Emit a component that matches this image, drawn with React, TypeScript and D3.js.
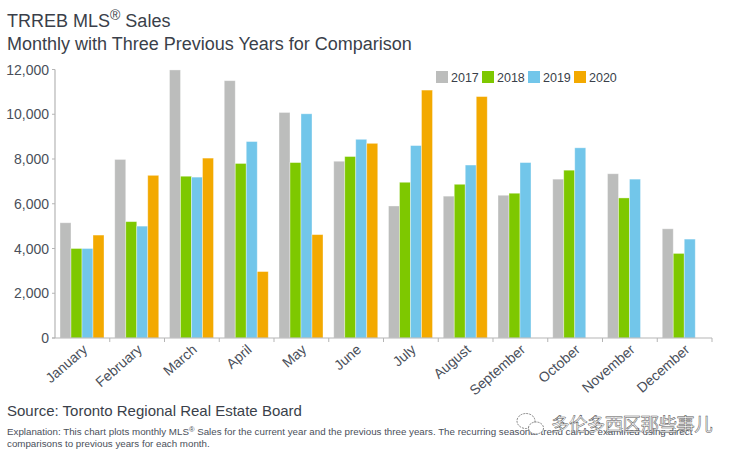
import React from "react";
import * as d3 from "d3";

const months = ["January","February","March","April","May","June","July","August","September","October","November","December"];
const years = ["2017","2018","2019","2020"];
const colors = ["#bcbdbc","#7ec800","#72c6ea","#f3a900"];
const s2017 = [5150,7980,11980,11500,10080,7900,5900,6340,6380,7100,7340,4880];
const s2018 = [4000,5200,7230,7800,7840,8110,6960,6870,6470,7500,6260,3780];
const s2019 = [4000,5000,7190,8780,10020,8880,8600,7730,7840,8500,7100,4420];
const s2020: (number|null)[] = [4600,7270,8040,2970,4620,8700,11080,10790,null,null,null,null];
const series = [s2017,s2018,s2019,s2020];
const yTicks = [0,2000,4000,6000,8000,10000,12000];
const FONT = "'Liberation Sans', Arial, sans-serif";
const TEXT = "#3a3f4a";

export default function App() {
  const y = d3.scaleLinear().domain([0,12000]).range([338,69.5]);
  const x = d3.scaleBand().domain(months).range([55,712]);
  const sub = d3.scaleBand().domain(years).range([5,49]);
  const fmt = d3.format(",");
  return (
    <svg width={736} height={458} style={{position:"absolute",left:0,top:0,background:"#fff"}} fontFamily={FONT}>
      <text x={7} y={27} fontSize={18} fill={TEXT}>TRREB MLS<tspan fontSize={14} dy={-7}>®</tspan><tspan dy={7}> Sales</tspan></text>
      <text x={7} y={50} fontSize={18} fill={TEXT}>Monthly with Three Previous Years for Comparison</text>

      {months.map((m,i)=>series.map((s,k)=>{
        const v = s[i];
        if (v==null) return null;
        return <rect key={m+k} x={x(m)!+sub(years[k])!} y={y(v)} width={sub.bandwidth()} height={338-y(v)} fill={colors[k]} stroke="#fff" strokeOpacity={0.45} strokeWidth={0.8}/>;
      }))}

      <line x1={55} x2={55} y1={69.5} y2={338} stroke="#b5b5b5" strokeWidth={1.2}/>
      <line x1={52} x2={712} y1={338} y2={338} stroke="#b5b5b5" strokeWidth={1.2}/>
      {yTicks.map(t=>(
        <g key={t}>
          <line x1={52} x2={55} y1={y(t)} y2={y(t)} stroke="#b5b5b5"/>
          <text x={49} y={y(t)+5} textAnchor="end" fontSize={14} fill="#4a4f5a">{fmt(t)}</text>
        </g>
      ))}
      {months.map((m,i)=>(
        <g key={m}>
          <line x1={x(m)!+x.bandwidth()} x2={x(m)!+x.bandwidth()} y1={338} y2={342} stroke="#b5b5b5"/>
          <text transform={`translate(${x(m)!+x.bandwidth()/2+6},${351}) rotate(-41)`} textAnchor="end" fontSize={14} fill="#4a4f5a">{m}</text>
        </g>
      ))}

      {years.map((yr,k)=>{
        const lx = d3.scaleLinear().domain([0,3]).range([436,574])(k);
        return <g key={yr}>
          <rect x={lx} y={71} width={12} height={12} fill={colors[k]}/>
          <text x={lx+15} y={82} fontSize={12.5} fill={TEXT}>{yr}</text>
        </g>;
      })}

      <text x={7} y={416} fontSize={15} fill={TEXT}>Source: Toronto Regional Real Estate Board</text>
      <text x={7} y={435} fontSize={9.75} fill="#4a4f5a">Explanation: This chart plots monthly MLS<tspan fontSize={7.5} dy={-3}>®</tspan><tspan dy={3}> Sales for the current year and the previous three years. The recurring seasonal trend can be examined using direct</tspan></text>
      <text x={7} y={447} fontSize={9.75} fill="#4a4f5a">comparisons to previous years for each month.</text>

      <g fill="#fff" stroke="#666" strokeWidth={0.8} strokeDasharray="2 1">
        <ellipse cx={526} cy={421} rx={9} ry={7.5}/>
        <ellipse cx={536} cy={428} rx={7.5} ry={6}/>
      </g>
      <text x={551} y={431} fontSize={18.5} fill="#fff" stroke="#555" strokeWidth={0.5} fontFamily="'Noto Sans CJK SC'" letterSpacing={-0.6}>多伦多西区那些事儿</text>
    </svg>
  );
}
